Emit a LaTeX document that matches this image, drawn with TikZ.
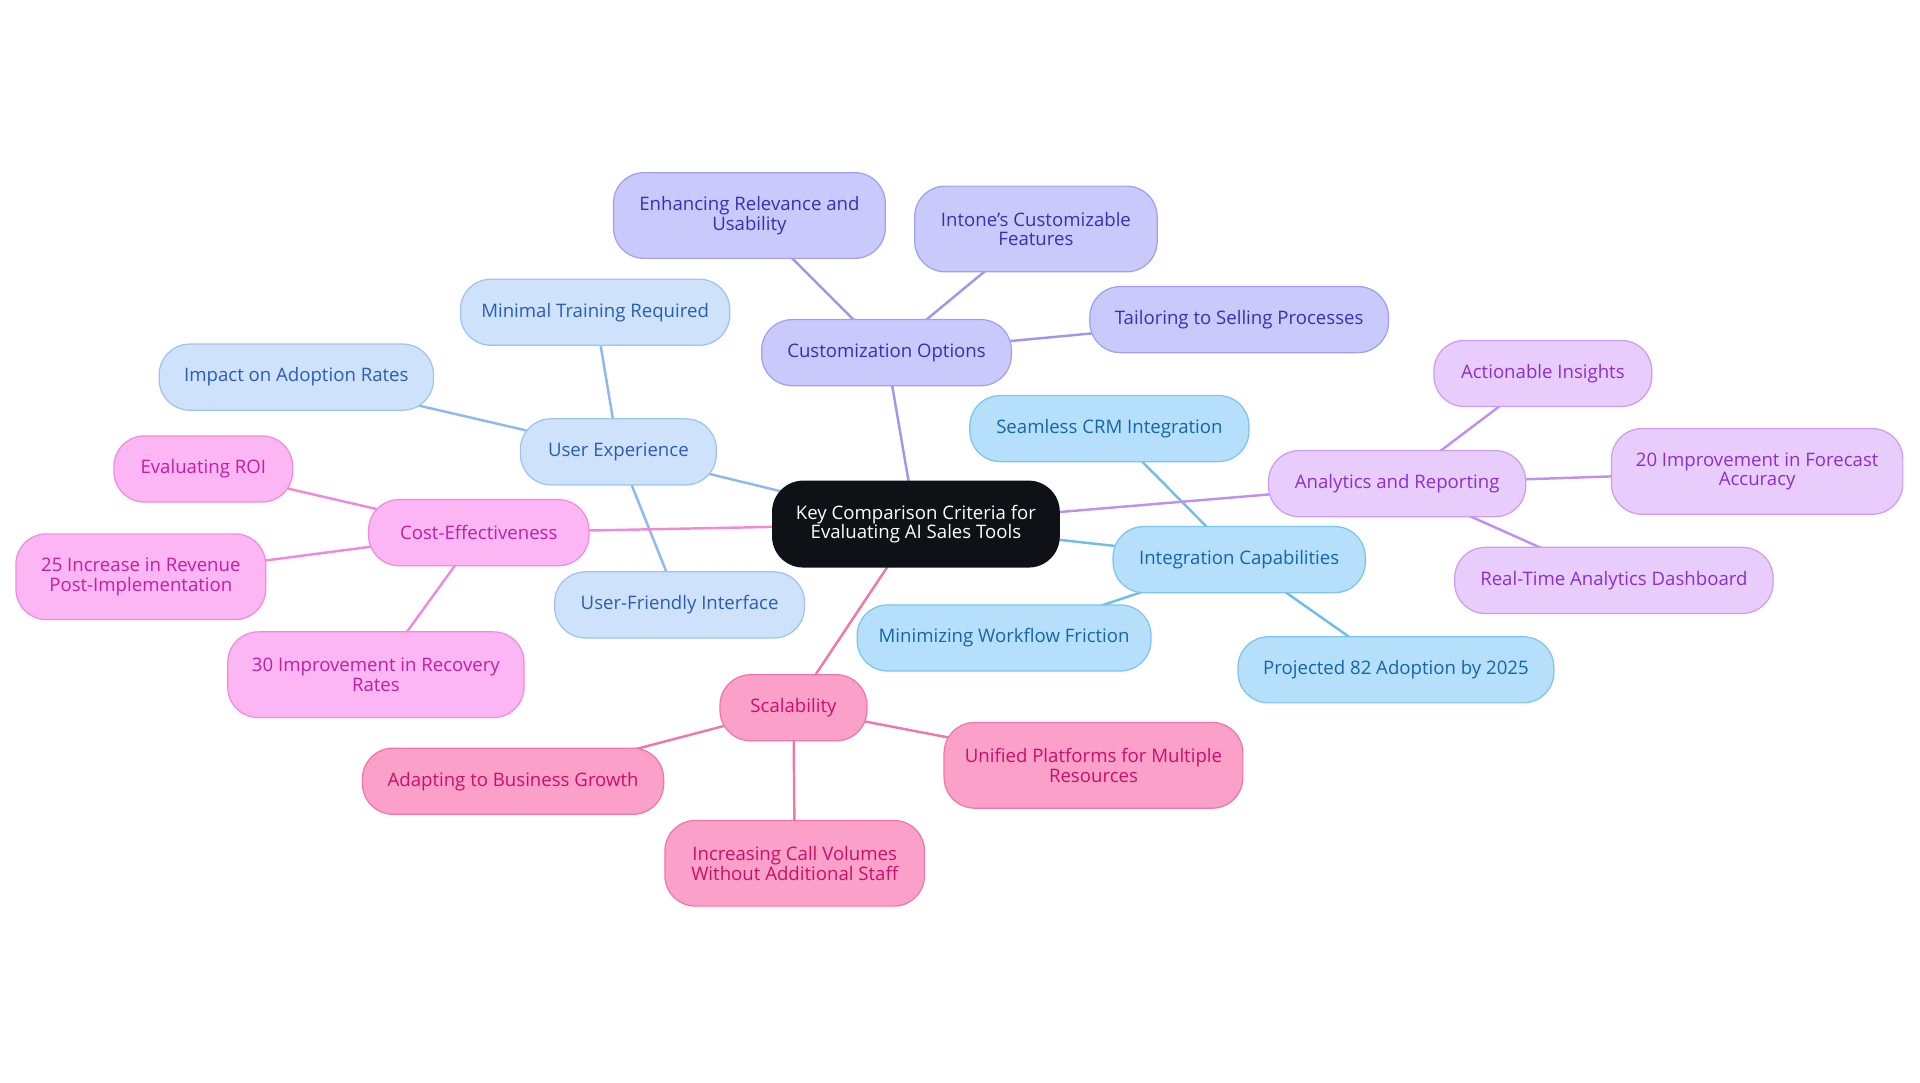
\documentclass[tikz,border=0pt]{standalone}
\usepackage{fontspec}
\setmainfont{Open Sans}
\usetikzlibrary{backgrounds}
\definecolor{ctr}{HTML}{0E1217}
\definecolor{uxF}{HTML}{CFE2FB}\definecolor{uxD}{HTML}{9DC3F3}\definecolor{uxT}{HTML}{2A5DB0}\definecolor{uxL}{HTML}{8FB8EE}
\definecolor{cuF}{HTML}{C9C9FB}\definecolor{cuD}{HTML}{A0A0F0}\definecolor{cuT}{HTML}{3A2FB0}\definecolor{cuL}{HTML}{9C98EE}
\definecolor{inF}{HTML}{B5DFFB}\definecolor{inD}{HTML}{7CC4F0}\definecolor{inT}{HTML}{1565A8}\definecolor{inL}{HTML}{72BDE8}
\definecolor{anF}{HTML}{E8CCFB}\definecolor{anD}{HTML}{CC9CF0}\definecolor{anT}{HTML}{8A30C8}\definecolor{anL}{HTML}{C090EE}
\definecolor{coF}{HTML}{FBB6F3}\definecolor{coD}{HTML}{F08AE0}\definecolor{coT}{HTML}{C0209F}\definecolor{coL}{HTML}{F08AD8}
\definecolor{scF}{HTML}{FBA0C8}\definecolor{scD}{HTML}{F075AA}\definecolor{scT}{HTML}{C8106A}\definecolor{scL}{HTML}{EE78A8}
\tikzset{
 bx/.style={rounded corners=12.5pt,align=center,font=\fontsize{7.6}{8}\selectfont,inner sep=0pt,line width=0.5pt,minimum height=27pt},
 uxb/.style={bx,fill=uxF,draw=uxD,text=uxT},
 cub/.style={bx,fill=cuF,draw=cuD,text=cuT},
 igb/.style={bx,fill=inF,draw=inD,text=inT},
 anb/.style={bx,fill=anF,draw=anD,text=anT},
 cob/.style={bx,fill=coF,draw=coD,text=coT},
 scb/.style={bx,fill=scF,draw=scD,text=scT},
 tall/.style={minimum height=35pt},
 ln/.style={line width=1pt}
}
\begin{document}
\begin{tikzpicture}[x=0.5pt,y=-0.5pt]
\useasboundingbox (0,0) rectangle (1568,884);
\node[bx,fill=ctr,draw=ctr,text=white,minimum width=117pt,tall] (c) at (748,428) {Key Comparison Criteria for\\Evaluating AI Sales Tools};
\node[uxb,minimum width=80pt] (ux) at (505,369) {User Experience};
\node[uxb,minimum width=110pt] (ux1) at (486,255) {Minimal Training Required};
\node[uxb,minimum width=112pt] (ux2) at (242,308) {Impact on Adoption Rates};
\node[uxb,minimum width=102pt] (ux3) at (555,494) {User-Friendly Interface};
\node[cub,minimum width=102pt] (cu) at (724,288) {Customization Options};
\node[cub,minimum width=111pt,tall] (cu1) at (612,176) {Enhancing Relevance and\\Usability};
\node[cub,minimum width=99pt,tall] (cu2) at (846,187) {Intone's Customizable\\Features};
\node[cub,minimum width=122pt] (cu3) at (1012,261) {Tailoring to Selling Processes};
\node[igb,minimum width=103pt] (ig) at (1012,457) {Integration Capabilities};
\node[igb,minimum width=114pt] (ig1) at (906,350) {Seamless CRM Integration};
\node[igb,minimum width=120pt] (ig2) at (820,521) {Minimizing Workflow Friction};
\node[igb,minimum width=129pt] (ig3) at (1140,547) {Projected 82 Adoption by 2025};
\node[anb,minimum width=105pt] (an) at (1141,395) {Analytics and Reporting};
\node[anb,minimum width=89pt] (an1) at (1260,305) {Actionable Insights};
\node[anb,minimum width=119pt,tall] (an2) at (1435,385) {20 Improvement in Forecast\\Accuracy};
\node[anb,minimum width=130pt] (an3) at (1318,474) {Real-Time Analytics Dashboard};
\node[cob,minimum width=90pt] (co) at (391,435) {Cost-Effectiveness};
\node[cob,minimum width=73pt] (co1) at (166,383) {Evaluating ROI};
\node[cob,minimum width=102pt,tall] (co2) at (115,471) {25 Increase in Revenue\\Post-Implementation};
\node[cob,minimum width=121pt,tall] (co3) at (307,551) {30 Improvement in Recovery\\Rates};
\node[scb,minimum width=60pt] (sc) at (648,578) {Scalability};
\node[scb,minimum width=123pt] (sc1) at (419,638) {Adapting to Business Growth};
\node[scb,minimum width=122pt,tall] (sc2) at (893,625) {Unified Platforms for Multiple\\Resources};
\node[scb,minimum width=106pt,tall] (sc3) at (649,705) {Increasing Call Volumes\\Without Additional Staff};
\begin{pgfonlayer}{background}
\path[ln,draw=uxL] (c.center) -- (ux.center) (ux.center) -- (ux1.center) (ux.center) -- (ux2.center) (ux.center) -- (ux3.center);
\path[ln,draw=cuL] (c.center) -- (cu.center) (cu.center) -- (cu1.center) (cu.center) -- (cu2.center) (cu.center) -- (cu3.center);
\path[ln,draw=inL] (c.center) -- (ig.center) (ig.center) -- (ig1.center) (ig.center) -- (ig2.center) (ig.center) -- (ig3.center);
\path[ln,draw=anL] (c.center) -- (an.center) (an.center) -- (an1.center) (an.center) -- (an2.center) (an.center) -- (an3.center);
\path[ln,draw=coL] (c.center) -- (co.center) (co.center) -- (co1.center) (co.center) -- (co2.center) (co.center) -- (co3.center);
\path[ln,draw=scL] (c.center) -- (sc.center) (sc.center) -- (sc1.center) (sc.center) -- (sc2.center) (sc.center) -- (sc3.center);
\end{pgfonlayer}
\end{tikzpicture}
\end{document}
